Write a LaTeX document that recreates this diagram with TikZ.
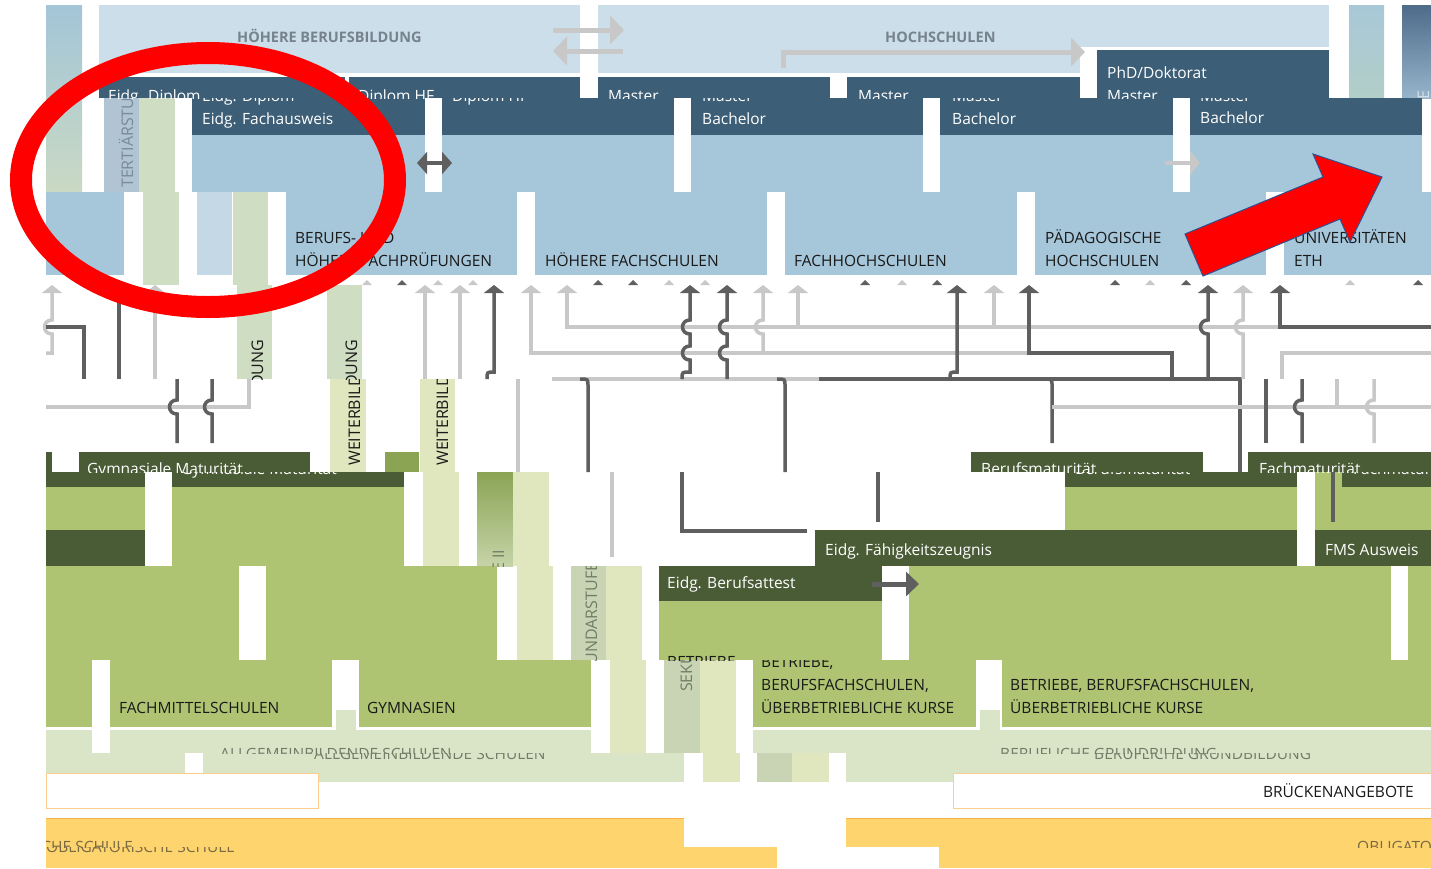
\documentclass[tikz,border=0pt]{standalone}
\usepackage{fontspec}
\setmainfont{Open Sans}
\usetikzlibrary{arrows.meta}

\definecolor{topblue}{RGB}{203,222,233}
\definecolor{darkblue}{RGB}{60,94,118}
\definecolor{midblue}{RGB}{166,198,218}
\definecolor{paleblue}{RGB}{196,216,229}
\definecolor{tertcol}{RGB}{176,196,212}
\definecolor{mintcol}{RGB}{207,221,194}
\definecolor{colA}{RGB}{163,197,216}
\definecolor{colB}{RGB}{202,217,196}
\definecolor{colC}{RGB}{168,200,216}
\definecolor{colD}{RGB}{178,206,200}
\definecolor{colE}{RGB}{78,108,138}
\definecolor{colF}{RGB}{150,180,202}
\definecolor{darkgreen}{RGB}{74,92,54}
\definecolor{lightgreen}{RGB}{174,196,115}
\definecolor{palecol}{RGB}{224,231,190}
\definecolor{paleband}{RGB}{218,229,200}
\definecolor{sekcol}{RGB}{200,212,180}
\definecolor{olive}{RGB}{138,164,84}
\definecolor{oliveB}{RGB}{198,212,168}
\definecolor{orangefill}{RGB}{254,212,110}
\definecolor{orangeline}{RGB}{246,178,70}
\definecolor{bridgeline}{RGB}{250,206,140}
\definecolor{dgrey}{RGB}{95,95,95}
\definecolor{lgrey}{RGB}{200,200,200}
\definecolor{textblack}{RGB}{25,25,25}
\definecolor{headtext}{RGB}{118,130,140}
\definecolor{tertext}{RGB}{120,138,156}
\definecolor{tertlight}{RGB}{215,225,232}
\definecolor{sektext}{RGB}{112,126,102}
\definecolor{bandtext}{RGB}{112,124,104}
\definecolor{schooltext}{RGB}{122,106,66}
\definecolor{arrowblue}{RGB}{47,82,143}

% hop of a vertical line over a horizontal one, drawn upwards
\newcommand{\hopup}[2]{-- (#1,#2+7) .. controls (#1-10,#2+7) and (#1-10,#2-7) .. (#1,#2-7)}

\begin{document}
\begin{tikzpicture}[x=1pt, y=-1pt,
    lbl/.style={anchor=base west, inner sep=0pt, text=textblack, font=\fontsize{15.5}{23}\selectfont},
    wlbl/.style={lbl, text=white},
    hlbl/.style={lbl, text=headtext, font=\fontsize{14.5}{20}\selectfont\bfseries},
    blbl/.style={lbl, text=bandtext},
    vlbl/.style={lbl, rotate=90, font=\fontsize{16}{20}\selectfont},
    dline/.style={draw=dgrey, line width=3.5pt},
    lline/.style={draw=lgrey, line width=3.5pt},
    uphead/.style={-{Triangle[width=20pt,length=8pt]}},
    bigarrow/.style={line width=5pt, -{Triangle[width=28pt,length=14pt]}}]
    \useasboundingbox (0,0) rectangle (1431,868);
    \fill[white] (0,0) rectangle (1431,868);

    % Tertiary level, top strip
    \shade[top color=colA, bottom color=colB] (46,5) rectangle (82,192);
    \fill[topblue] (99,5) rectangle (580,73);
    \fill[topblue] (598,5) rectangle (1080,73);
    \fill[topblue] (1080,5) rectangle (1329,47);
    \shade[top color=colC, bottom color=colD] (1349,5) rectangle (1384,98);
    \shade[top color=colE, bottom color=colF] (1402,5) rectangle (1431,98);
    \fill[darkblue] (99,77) rectangle (345,98);
    \fill[darkblue] (349,77) rectangle (580,98);
    \fill[darkblue] (598,77) rectangle (830,98);
    \fill[darkblue] (847,77) rectangle (1080,98);
    \fill[darkblue] (1097,50) rectangle (1329,98);

    % Tertiary level, degrees and schools
    \fill[tertcol] (104,98) rectangle (139,192);
    \fill[mintcol] (139,98) rectangle (175,192);
    \fill[darkblue] (192,98) rectangle (1422,135);
    \fill[midblue] (192,135) rectangle (1422,192);
    \foreach \x in {425,674,923,1173}
        \fill[white] (\x,98) rectangle (\x+17,192);
    \fill[midblue] (46,192) rectangle (124,275);
    \fill[mintcol] (143,192) rectangle (179,285);
    \fill[paleblue] (197,192) rectangle (232,275);
    \fill[mintcol] (233,192) rectangle (268,285);
    \fill[midblue] (286,192) rectangle (517,275);
    \fill[midblue] (535,192) rectangle (767,275);
    \fill[midblue] (785,192) rectangle (1017,275);
    \fill[midblue] (1035,192) rectangle (1266,275);
    \fill[midblue] (1284,192) rectangle (1431,275);

    % Weiterbildung columns and Maturitaet row
    \fill[mintcol] (237,285) rectangle (272,379);
    \fill[mintcol] (327,285) rectangle (362,379);
    \fill[palecol] (330,379) rectangle (366,472);
    \fill[palecol] (420,379) rectangle (455,472);
    \fill[olive] (385,452) rectangle (419,472);
    \fill[darkgreen] (46,452) rectangle (52,472);
    \fill[darkgreen] (79,452) rectangle (310,472);
    \fill[darkgreen] (971,452) rectangle (1203,472);
    \fill[darkgreen] (1248,452) rectangle (1431,472);

    % Secondary level II
    \fill[darkgreen] (46,472) rectangle (145,487);
    \fill[lightgreen] (46,487) rectangle (145,530);
    \fill[darkgreen] (46,530) rectangle (145,566);
    \fill[darkgreen] (172,472) rectangle (404,487);
    \fill[lightgreen] (172,487) rectangle (404,566);
    \fill[palecol] (423,472) rectangle (459,566);
    \shade[top color=olive, bottom color=oliveB] (477,472) rectangle (513,566);
    \fill[palecol] (513,472) rectangle (549,566);
    \fill[darkgreen] (1065,472) rectangle (1297,487);
    \fill[lightgreen] (1065,487) rectangle (1297,530);
    \fill[darkgreen] (815,530) rectangle (1297,566);
    \fill[lightgreen] (1315,472) rectangle (1431,530);
    \fill[darkgreen] (1342,472) rectangle (1431,487);
    \fill[darkgreen] (1315,530) rectangle (1431,566);

    \fill[lightgreen] (46,566) rectangle (239,660);
    \fill[lightgreen] (266,566) rectangle (497,660);
    \fill[palecol] (517,566) rectangle (553,660);
    \fill[sekcol] (571,566) rectangle (606,660);
    \fill[palecol] (606,566) rectangle (642,660);
    \fill[darkgreen] (659,566) rectangle (882,601);
    \fill[lightgreen] (659,601) rectangle (882,660);
    \fill[lightgreen] (909,566) rectangle (1391,660);
    \fill[lightgreen] (1408,566) rectangle (1431,660);

    \fill[lightgreen] (46,660) rectangle (92,727);
    \fill[lightgreen] (110,660) rectangle (332,727);
    \fill[lightgreen] (359,660) rectangle (591,727);
    \fill[lightgreen] (753,660) rectangle (976,727);
    \fill[lightgreen] (1002,660) rectangle (1431,727);
    \fill[paleband] (336,710) rectangle (356,730);
    \fill[paleband] (980,710) rectangle (1000,730);
    \fill[paleband] (46,730) rectangle (92,753);
    \fill[paleband] (110,730) rectangle (591,753);
    \fill[paleband] (753,730) rectangle (1431,753);
    \fill[palecol] (610,660) rectangle (646,753);
    \fill[sekcol] (664,660) rectangle (700,753);
    \fill[palecol] (700,660) rectangle (736,753);

    \fill[paleband] (46,753) rectangle (185,773);
    \fill[paleband] (203,753) rectangle (684,773);
    \fill[paleband] (318,773) rectangle (684,782);
    \fill[palecol] (703,753) rectangle (740,782);
    \fill[sekcol] (757,753) rectangle (792,782);
    \fill[palecol] (792,753) rectangle (829,782);
    \fill[paleband] (846,753) rectangle (1431,773);
    \fill[paleband] (846,773) rectangle (953,782);

    % Brueckenangebote and compulsory school
    \filldraw[fill=white, draw=bridgeline] (46,773) rectangle (318,808);
    \filldraw[fill=white, draw=bridgeline] (953,773) rectangle (1431,808);
    \fill[orangefill] (46,818) rectangle (684,847);
    \fill[orangefill] (46,847) rectangle (777,868);
    \fill[orangefill] (846,818) rectangle (1431,847);
    \fill[orangefill] (939,847) rectangle (1431,868);
    \draw[orangeline] (46,818) -- (684,818);
    \draw[orangeline] (846,818) -- (1431,818);

    % Nodes
    \begin{scope}
        \clip (46,5) rectangle (1431,98);
        \node[hlbl] (hbb) at (237,42) {HÖHERE BERUFSBILDUNG};
        \node[hlbl] (hs) at (885,42) {HOCHSCHULEN};
        \node[wlbl] (diplA) at (108,101) {Eidg. Diplom};
        \node[wlbl] (hfA) at (358,101) {Diplom HF};
        \node[wlbl] (masterA) at (608,101) {Master};
        \node[wlbl] (masterB) at (858,101) {Master};
        \node[wlbl] (phd) at (1107,78) {PhD/Doktorat};
        \node[wlbl] (masterC) at (1107,101) {Master};
        \node[vlbl, text=tertlight] (tertB) at (1429,198) {TERTIÄRSTUFE};
    \end{scope}
    \begin{scope}
        \clip (46,98) rectangle (1431,192);
        \node[wlbl] (diplB) at (202,101) {Eidg. Diplom};
        \node[wlbl] (hfB) at (452,101) {Diplom HF};
        \node[wlbl] (masterD) at (702,101) {Master};
        \node[wlbl] (masterE) at (952,101) {Master};
        \node[wlbl] (masterF) at (1200,101) {Master};
        \node[vlbl, text=tertext] (tertA) at (133,188) {TERTIÄRSTUFE};
    \end{scope}
    \node[wlbl] (fa) at (202,124) {Eidg. Fachausweis};
    \node[wlbl] (bachA) at (702,124) {Bachelor};
    \node[wlbl] (bachB) at (952,124) {Bachelor};
    \node[wlbl] (bachC) at (1200,123) {Bachelor};

    \node[lbl] (bhfA) at (295,243) {BERUFS- UND};
    \node[lbl] (bhfB) at (295,266) {HÖHERE FACHPRÜFUNGEN};
    \node[lbl] (hf) at (545,266) {HÖHERE FACHSCHULEN};
    \node[lbl] (fh) at (794,266) {FACHHOCHSCHULEN};
    \node[lbl] (phA) at (1045,243) {PÄDAGOGISCHE};
    \node[lbl] (phB) at (1045,266) {HOCHSCHULEN};
    \node[lbl] (uniA) at (1294,243) {UNIVERSITÄTEN};
    \node[lbl] (uniB) at (1294,266) {ETH};

    \begin{scope}
        \clip (46,285) rectangle (1431,379);
        \node[vlbl] (wbA) at (263,466) {WEITERBILDUNG};
        \node[vlbl] (wbB) at (357,466) {WEITERBILDUNG};
    \end{scope}
    \begin{scope}
        \clip (46,379) rectangle (1431,472);
        \node[vlbl] (wbC) at (360,466) {WEITERBILDUNG};
        \node[vlbl] (wbD) at (448,466) {WEITERBILDUNG};
        \node[wlbl] (gymA) at (87,474) {Gymnasiale Maturität};
        \node[wlbl] (bmA) at (981,474) {Berufsmaturität};
        \node[wlbl] (fmA) at (1259,474) {Fachmaturität};
    \end{scope}
    \begin{scope}
        \clip (46,472) rectangle (1431,566);
        \node[wlbl] (gymB) at (181,474) {Gymnasiale Maturität};
        \node[wlbl] (bmB) at (1075,474) {Berufsmaturität};
        \node[wlbl] (fmB) at (1353,474) {Fachmaturität};
    \end{scope}
    \begin{scope}
        \clip (477,472) rectangle (513,566);
        \node[vlbl, text=sektext] (sekA) at (504,692) {SEKUNDARSTUFE II};
    \end{scope}
    \begin{scope}
        \clip (571,566) rectangle (606,660);
        \node[vlbl, text=sektext] (sekB) at (597,692) {SEKUNDARSTUFE II};
    \end{scope}
    \begin{scope}
        \clip (664,660) rectangle (700,753);
        \node[vlbl, text=sektext] (sekC) at (692,692) {SEKUNDARSTUFE II};
    \end{scope}
    \node[wlbl] (efz) at (825,555) {Eidg. Fähigkeitszeugnis};
    \node[wlbl] (fms) at (1325,555) {FMS Ausweis};
    \node[wlbl] (eba) at (667,588) {Eidg. Berufsattest};

    \begin{scope}
        \clip (46,566) rectangle (1431,660);
        \node[lbl] (betrA) at (667,667) {BETRIEBE,};
    \end{scope}
    \begin{scope}
        \clip (46,660) rectangle (1431,753);
        \node[lbl] (betrB) at (761,667) {BETRIEBE,};
        \node[lbl] (bfsA) at (761,690) {BERUFSFACHSCHULEN,};
        \node[lbl] (ubkA) at (761,713) {ÜBERBETRIEBLICHE KURSE};
        \node[lbl] (bfsB) at (1010,690) {BETRIEBE, BERUFSFACHSCHULEN,};
        \node[lbl] (ubkB) at (1010,713) {ÜBERBETRIEBLICHE KURSE};
        \node[lbl] (fms2) at (119,713) {FACHMITTELSCHULEN};
        \node[lbl] (gym) at (367,713) {GYMNASIEN};
        \node[blbl] (abA) at (220,759) {ALLGEMEINBILDENDE SCHULEN};
        \node[blbl] (bgA) at (1000,759) {BERUFLICHE GRUNDBILDUNG};
    \end{scope}
    \begin{scope}
        \clip (46,753) rectangle (1431,847);
        \node[blbl] (abB) at (314,759) {ALLGEMEINBILDENDE SCHULEN};
        \node[blbl] (bgB) at (1094,759) {BERUFLICHE GRUNDBILDUNG};
        \node[lbl, text=schooltext] (osA) at (-56,852) {OBLIGATORISCHE SCHULE};
        \node[lbl, text=schooltext] (osC) at (1357,852) {OBLIGATORISCHE SCHULE};
    \end{scope}
    \begin{scope}
        \clip (46,847) rectangle (1431,868);
        \node[lbl, text=schooltext] (osB) at (46,852) {OBLIGATORISCHE SCHULE};
    \end{scope}
    \node[lbl, anchor=base east] (bruecke) at (1414,797) {BRÜCKENANGEBOTE};

    % Edges
    \draw[lgrey, bigarrow] (553,30) -- (624,30);
    \draw[lgrey, bigarrow] (623,51) -- (553,51);
    \draw[lgrey, bigarrow] (783,68) -- (783,52) -- (1085,52);
    \draw[dgrey, line width=4pt, {Triangle[width=22pt,length=10pt]}-{Triangle[width=22pt,length=10pt]}] (417,163) -- (452,163);
    \draw[lgrey, line width=4pt, -{Triangle[width=24pt,length=10pt]}] (1165,163) -- (1200,163);

    \foreach \x in {402,598,633,865,937,1115,1186,1418}
        \fill[dgrey] (\x-5,285) -- (\x,280) -- (\x+5,285) -- cycle;
    \foreach \x in {367,438,473,669,705,902,1150,1350}
        \fill[lgrey] (\x-5,285) -- (\x,280) -- (\x+5,285) -- cycle;

    \draw[lline, uphead] (46,353) -- (52,353) \hopup{52}{327} -- (52,285);
    \draw[dline] (46,327) -- (84,327) -- (84,379);
    \draw[dline, uphead] (119,379) -- (119,285);
    \draw[lline, uphead] (155,379) -- (155,285);
    \draw[lline, uphead] (425,379) -- (425,285);
    \draw[lline, uphead] (460,379) -- (460,285);
    \draw[dline, uphead] (487,379) .. controls (487,372) .. (494,372) -- (494,285);
    \draw[lline, uphead] (1030,353) -- (531,353) -- (531,285);
    \draw[lline, uphead] (1280,327) -- (567,327) -- (567,285);
    \draw[lline] (552,379) -- (819,379);
    \draw[dline] (819,379) -- (1240,379) -- (1240,472);
    \draw[dline, uphead] (682,379) .. controls (682,372) .. (690,372) \hopup{690}{353} \hopup{690}{327} -- (690,285);
    \draw[dline, uphead] (727,379) \hopup{727}{353} \hopup{727}{327} -- (727,285);
    \draw[lline, uphead] (763,353) \hopup{763}{327} -- (763,285);
    \draw[lline, uphead] (798,327) -- (798,285);
    \draw[dline, uphead] (950,379) .. controls (950,372) .. (957,372) -- (957,285);
    \draw[lline, uphead] (994,327) -- (994,285);
    \draw[dline, uphead] (1172,379) -- (1172,353) -- (1029,353) -- (1029,285);
    \draw[dline, uphead] (1208,379) \hopup{1208}{327} -- (1208,285);
    \draw[lline, uphead] (1243,379) \hopup{1243}{327} -- (1243,285);
    \draw[dline, uphead] (1431,327) -- (1280,327) -- (1280,285);
    \draw[lline] (1282,379) -- (1282,353) -- (1431,353);

    \draw[lline] (249,379) -- (249,407) -- (46,407);
    \draw[dline] (177,443) \hopup{177}{407} -- (177,379);
    \draw[dline] (212,443) \hopup{212}{407} -- (212,379);
    \draw[lline] (518,379) -- (518,472);
    \draw[dline] (588,472) -- (588,386) .. controls (588,379) .. (580,379);
    \draw[dline] (785,472) -- (785,386) .. controls (785,379) .. (777,379);
    \draw[dline] (1052,443) -- (1052,386) .. controls (1052,379) .. (1044,379);
    \draw[lline] (1052,407) -- (1431,407);
    \draw[dline] (1266,379) -- (1266,443);
    \draw[dline] (1302,443) \hopup{1302}{407} -- (1302,379);
    \draw[lline] (1337,407) -- (1337,379);
    \draw[lline] (1374,443) \hopup{1374}{407} -- (1374,379);

    \draw[lline] (612,472) -- (612,557);
    \draw[dline] (682,472) -- (682,531) -- (807,531);
    \draw[dline] (878,472) -- (878,522);
    \draw[dline] (1333,472) -- (1333,522);
    \draw[dgrey, line width=5pt, -{Triangle[width=24pt,length=13pt]}] (872,584) -- (919,584);

    % Markings
    \draw[red, line width=22pt] (208,180) ellipse [x radius=187, y radius=127];
    \filldraw[fill=red, draw=arrowblue, line width=1pt] (1185,234) -- (1323,177) -- (1313,154) -- (1382,177) -- (1350,242) -- (1340,219) -- (1203,276) -- cycle;
\end{tikzpicture}
\end{document}
